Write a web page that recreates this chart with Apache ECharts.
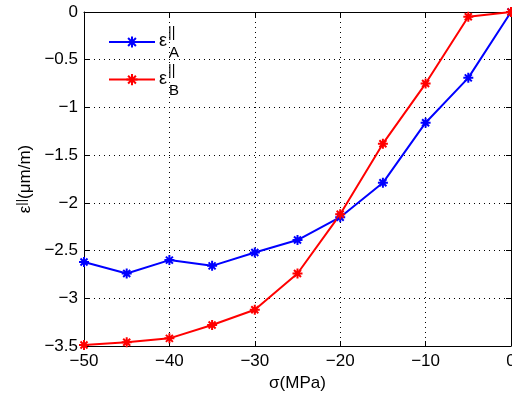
<!DOCTYPE html>
<html><head><meta charset="utf-8">
<script src="https://cdn.jsdelivr.net/npm/echarts@6/dist/echarts.min.js"></script>
<style>html,body{margin:0;padding:0;background:#fff}#c{width:512px;height:394px}</style>
</head><body><div id="c"></div>
<script>
var sigma = [-50, -45, -40, -35, -30, -25, -20, -15, -10, -5, 0];
var epsA = [-2.62, -2.74, -2.60, -2.66, -2.52, -2.39, -2.15, -1.79, -1.16, -0.69, 0];
var epsB = [-3.49, -3.46, -3.42, -3.28, -3.12, -2.74, -2.12, -1.38, -0.75, -0.05, 0];
var seriesNames = ['A', 'B'];

var FONT = 'Liberation Sans';
var FS = 17;
var star = 'path://M0,-10L0,10M-10,0L10,0M-7,-7L7,7M-7,7L7,-7';
function fmt(v){ return String(v).replace('-', '\u2212'); }
function pairs(ys){ return sigma.map(function(x,i){ return [x, ys[i]]; }); }

function legendText(y, sub){
  return [
    {type: 'text', left: 159, top: y - 10, style: {text: '\u03b5', fontFamily: FONT, fontSize: 18, fill: '#000'}},
    {type: 'text', left: 168, top: y - 16, style: {text: '||', fontFamily: FONT, fontSize: 14, fill: '#000'}},
    {type: 'text', left: 169, top: y + 3, style: {text: sub, fontFamily: FONT, fontSize: 15, fill: '#000'}}
  ];
}

var chart = echarts.init(document.getElementById('c'));
var axisCommon = {
  axisLine: {show: true, onZero: false, lineStyle: {color: '#000', width: 1}},
  axisTick: {show: true, inside: true, length: 5, lineStyle: {color: '#000'}},
};
chart.setOption({
  animation: false,
  grid: {left: 84, right: 1, top: 12, bottom: 48, outerBoundsMode: 'none', containLabel: false},
  legend: {
    orient: 'vertical', left: 108, top: 35, padding: 0, itemWidth: 46, itemHeight: 14, itemGap: 24,
    data: seriesNames,
    formatter: function(){ return ''; }
  },
  xAxis: [
    Object.assign({
      type: 'value', min: -50, max: 0, interval: 10,
      axisLabel: {fontFamily: FONT, fontSize: FS, color: '#000', margin: 7, formatter: fmt},
      splitLine: {show: true, lineStyle: {color: '#000', type: [1, 4], width: 1}},
      name: '\u03c3(MPa)', nameLocation: 'middle', nameGap: 28,
      nameTextStyle: {fontFamily: FONT, fontSize: FS, color: '#000'}
    }, axisCommon),
    Object.assign({
      type: 'value', position: 'top', min: -50, max: 0, interval: 10,
      axisLabel: {show: false}, splitLine: {show: false}
    }, axisCommon)
  ],
  yAxis: [
    Object.assign({
      type: 'value', min: -3.5, max: 0, interval: 0.5,
      axisLabel: {fontFamily: FONT, fontSize: FS, color: '#000', margin: 6, formatter: fmt},
      splitLine: {show: true, lineStyle: {color: '#000', type: [1, 4], width: 1}},
      name: '{e|\u03b5}{s|||}{e|(\u03bcm/m)}', nameLocation: 'middle', nameGap: 44, nameRotate: 90,
      nameTextStyle: {
        fontFamily: FONT, fontSize: FS, color: '#000',
        rich: {
          e: {fontFamily: FONT, fontSize: FS, color: '#000'},
          s: {fontFamily: FONT, fontSize: 13, color: '#000', padding: [0,0,8,0]}
        }
      }
    }, axisCommon),
    Object.assign({
      type: 'value', position: 'right', min: -3.5, max: 0, interval: 0.5,
      axisLabel: {show: false}, splitLine: {show: false}
    }, axisCommon)
  ],
  graphic: legendText(42, 'A').concat(legendText(80, 'B')),
  series: [
    {name: 'A', type: 'line', data: pairs(epsA), symbol: star, symbolSize: 10,
     lineStyle: {color: '#0000ff', width: 2}, itemStyle: {color: '#0000ff', borderColor: '#0000ff', borderWidth: 2},
     emphasis: {disabled: true}},
    {name: 'B', type: 'line', data: pairs(epsB), symbol: star, symbolSize: 10,
     lineStyle: {color: '#ff0000', width: 2}, itemStyle: {color: '#ff0000', borderColor: '#ff0000', borderWidth: 2},
     emphasis: {disabled: true}}
  ]
});
</script></body></html>
